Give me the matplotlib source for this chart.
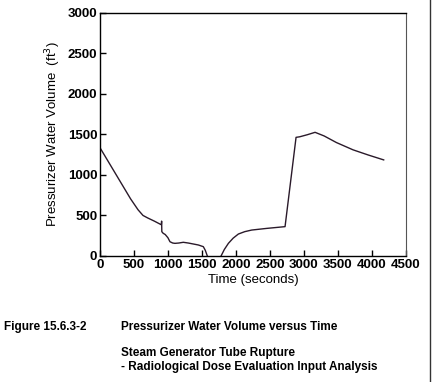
import matplotlib.pyplot as plt
import numpy as np

plt.rcParams['font.family'] = ['Liberation Sans', 'DejaVu Sans']

# Pressurizer water volume vs time
time_s = [0, 150, 300, 450, 560, 633, 700, 800, 903, 907, 910, 930, 960,
          1000, 1030, 1070, 1103, 1160, 1226, 1300, 1447, 1521, 1550, 1580,
          1650, 1720, 1782, 1830, 1890, 1960, 2037, 2130, 2233, 2450, 2724,
          2886, 2940, 3050, 3166, 3300, 3480, 3725, 3950, 4176]
volume_ft3 = [1335, 1125, 915, 705, 570, 500, 470, 430, 385, 430, 300, 280,
              265, 225, 176, 160, 156, 160, 169, 160, 136, 115, 70, 0,
              -150, -150, 0, 80, 156, 220, 271, 300, 320, 340, 362,
              1463, 1470, 1495, 1525, 1480, 1399, 1309, 1245, 1185]

x_ticks = np.arange(0, 4501, 500)
y_ticks = np.arange(0, 3001, 500)

fig = plt.figure(figsize=(4.32, 3.82), dpi=100)
ax = fig.add_axes([100 / 432, 1 - 256 / 382, 305.7 / 432, 243.3 / 382])

ax.plot(time_s, volume_ft3, color='#2a1a2a', lw=1.0)

ax.set_xlim(0, 4500)
ax.set_ylim(0, 3000)
ax.set_xticks(x_ticks)
ax.set_yticks(y_ticks)
ax.tick_params(direction='in', length=4, width=1, labelsize=9.5, pad=2,
               top=False, right=False)
for lbl in ax.get_xticklabels() + ax.get_yticklabels():
    lbl.set_fontweight('bold')
for side in ['left', 'bottom', 'top']:
    ax.spines[side].set_linewidth(1.0)
    ax.spines[side].set_color('black')
ax.spines['right'].set_linewidth(0.8)
ax.spines['right'].set_color('#555555')

ax.set_xlabel('Time (seconds)', fontsize=9.5, labelpad=2)
ax.set_ylabel('Pressurizer Water Volume  (ft$^3$)', fontsize=9.5, labelpad=3)

# caption
cap = dict(fontsize=8.5, fontweight='bold', va='center')
fig.text(4 / 432, 1 - 327 / 382, 'Figure 15.6.3-2', **cap)
fig.text(121 / 432, 1 - 327 / 382, 'Pressurizer Water Volume versus Time', **cap)
fig.text(121 / 432, 1 - 353 / 382, 'Steam Generator Tube Rupture', **cap)
fig.text(121 / 432, 1 - 367 / 382,
         '- Radiological Dose Evaluation Input Analysis', **cap)

# page border on the right
fig.add_artist(plt.Line2D([430 / 432, 430 / 432], [0, 1],
                          transform=fig.transFigure, color='#333333', lw=1))

fig.savefig('out.png', dpi=100)
